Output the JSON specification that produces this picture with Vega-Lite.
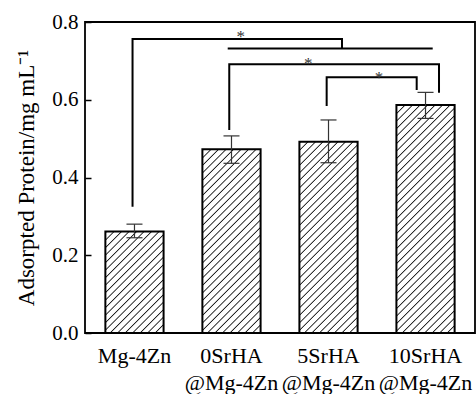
{
"$schema": "https://vega.github.io/schema/vega-lite/v6.json",
"width": 390, "height": 311,
"autosize": {"type": "none"},
"padding": {"left": 85, "top": 22, "right": 1, "bottom": 61},
"background": "white",
"config": {"view": {"stroke": "black", "strokeWidth": 1.8}, "font": "Liberation Serif",
 "axis": {"labelFont": "Liberation Serif", "titleFont": "Liberation Serif"},
 "text": {"font": "Liberation Serif"}},
"datasets": {
 "bars": [
  {"group": "Mg-4Zn", "value": 0.261, "lo": 0.245, "hi": 0.280},
  {"group": "0SrHA @Mg-4Zn", "value": 0.4725, "lo": 0.4365, "hi": 0.507},
  {"group": "5SrHA @Mg-4Zn", "value": 0.492, "lo": 0.438, "hi": 0.548},
  {"group": "10SrHA @Mg-4Zn", "value": 0.5865, "lo": 0.552, "hi": 0.619}
 ],
 "brackets": [
  {"id": "A", "i": 0, "bx": -0.02, "by": 0.325},
  {"id": "A", "i": 1, "bx": -0.02, "by": 0.756},
  {"id": "A", "i": 2, "bx": 2.139, "by": 0.756},
  {"id": "A", "i": 3, "bx": 2.139, "by": 0.732},
  {"id": "A2", "i": 0, "bx": 0.961, "by": 0.732},
  {"id": "A2", "i": 1, "bx": 3.074, "by": 0.732},
  {"id": "B", "i": 0, "bx": 0.977, "by": 0.522},
  {"id": "B", "i": 1, "bx": 0.977, "by": 0.691},
  {"id": "B", "i": 2, "bx": 3.139, "by": 0.691},
  {"id": "B", "i": 3, "bx": 3.139, "by": 0.618},
  {"id": "C", "i": 0, "bx": 1.981, "by": 0.584},
  {"id": "C", "i": 1, "bx": 1.981, "by": 0.658},
  {"id": "C", "i": 2, "bx": 2.909, "by": 0.658},
  {"id": "C", "i": 3, "bx": 2.909, "by": 0.625}
 ],
 "stars": [
  {"sx": 1.095, "sy": 0.772},
  {"sx": 1.792, "sy": 0.702},
  {"sx": 2.52, "sy": 0.666}
 ]
},
"layer": [
 {
  "data": {"name": "bars"},
  "encoding": {
   "x": {"field": "group", "type": "nominal", "sort": null, "title": null,
    "scale": {"domain": ["Mg-4Zn", "0SrHA @Mg-4Zn", "5SrHA @Mg-4Zn", "10SrHA @Mg-4Zn"], "paddingInner": 0.4, "paddingOuter": 0.21},
    "axis": {"labelExpr": "split(datum.label, ' ')", "ticks": false, "domain": false, "labelFont": "Liberation Serif", "labelFontSize": 22, "labelColor": "black", "labelPadding": 12, "labelLineHeight": 27, "labelAngle": 0, "labelBaseline": "top", "labelOverlap": false, "labelBound": false, "labelFlush": false}}
  },
  "layer": [
   {"transform": [{"filter": "datum.group === 'Mg-4Zn'"}],
    "mark": {"type": "bar", "stroke": "black", "strokeWidth": 2,
     "fill": {"gradient": "linear", "x1": 0, "y1": 0, "x2": 1.2756, "y2": 2.2243, "stops": [
{"offset":0,"color":"#fff"},{"offset":0.004,"color":"#111"},{"offset":0.008,"color":"#fff"},
{"offset":0.025,"color":"#fff"},{"offset":0.029,"color":"#111"},{"offset":0.033,"color":"#fff"},
{"offset":0.05,"color":"#fff"},{"offset":0.054,"color":"#111"},{"offset":0.058,"color":"#fff"},
{"offset":0.075,"color":"#fff"},{"offset":0.079,"color":"#111"},{"offset":0.083,"color":"#fff"},
{"offset":0.1,"color":"#fff"},{"offset":0.104,"color":"#111"},{"offset":0.108,"color":"#fff"},
{"offset":0.125,"color":"#fff"},{"offset":0.129,"color":"#111"},{"offset":0.133,"color":"#fff"},
{"offset":0.15,"color":"#fff"},{"offset":0.154,"color":"#111"},{"offset":0.158,"color":"#fff"},
{"offset":0.175,"color":"#fff"},{"offset":0.179,"color":"#111"},{"offset":0.183,"color":"#fff"},
{"offset":0.2,"color":"#fff"},{"offset":0.204,"color":"#111"},{"offset":0.208,"color":"#fff"},
{"offset":0.225,"color":"#fff"},{"offset":0.229,"color":"#111"},{"offset":0.233,"color":"#fff"},
{"offset":0.25,"color":"#fff"},{"offset":0.254,"color":"#111"},{"offset":0.258,"color":"#fff"},
{"offset":0.275,"color":"#fff"},{"offset":0.279,"color":"#111"},{"offset":0.283,"color":"#fff"},
{"offset":0.3,"color":"#fff"},{"offset":0.304,"color":"#111"},{"offset":0.308,"color":"#fff"},
{"offset":0.325,"color":"#fff"},{"offset":0.329,"color":"#111"},{"offset":0.333,"color":"#fff"},
{"offset":0.35,"color":"#fff"},{"offset":0.354,"color":"#111"},{"offset":0.358,"color":"#fff"},
{"offset":0.375,"color":"#fff"},{"offset":0.379,"color":"#111"},{"offset":0.383,"color":"#fff"},
{"offset":0.4,"color":"#fff"},{"offset":0.404,"color":"#111"},{"offset":0.408,"color":"#fff"},
{"offset":0.425,"color":"#fff"},{"offset":0.429,"color":"#111"},{"offset":0.433,"color":"#fff"},
{"offset":0.45,"color":"#fff"},{"offset":0.454,"color":"#111"},{"offset":0.458,"color":"#fff"},
{"offset":0.475,"color":"#fff"},{"offset":0.479,"color":"#111"},{"offset":0.483,"color":"#fff"},
{"offset":0.5,"color":"#fff"},{"offset":0.504,"color":"#111"},{"offset":0.508,"color":"#fff"},
{"offset":0.525,"color":"#fff"},{"offset":0.529,"color":"#111"},{"offset":0.533,"color":"#fff"}
     ]}},
    "encoding": {"y": {"field": "value", "type": "quantitative", "title": "Adsorpted Protein/mg mL⁻¹", "scale": {"domain": [0, 0.8], "nice": false},
     "axis": {"values": [0, 0.2, 0.4, 0.6, 0.8], "format": ".1f", "domain": false, "grid": false, "tickSize": -6, "tickWidth": 1.5, "tickColor": "black", "labelFont": "Liberation Serif", "labelFontSize": 21, "labelColor": "black", "labelPadding": 13, "labelFlush": false, "titleFont": "Liberation Serif", "titleFontSize": 23, "titleFontWeight": "normal", "titleColor": "black", "titlePadding": 13}}}
   },
   {"transform": [{"filter": "datum.group === '0SrHA @Mg-4Zn'"}],
    "mark": {"type": "bar", "stroke": "black", "strokeWidth": 2,
     "fill": {"gradient": "linear", "x1": 0, "y1": 0, "x2": 0.4704, "y2": 1.4842, "stops": [
{"offset":0,"color":"#fff"},{"offset":0.004,"color":"#111"},{"offset":0.008,"color":"#fff"},
{"offset":0.025,"color":"#fff"},{"offset":0.029,"color":"#111"},{"offset":0.033,"color":"#fff"},
{"offset":0.05,"color":"#fff"},{"offset":0.054,"color":"#111"},{"offset":0.058,"color":"#fff"},
{"offset":0.075,"color":"#fff"},{"offset":0.079,"color":"#111"},{"offset":0.083,"color":"#fff"},
{"offset":0.1,"color":"#fff"},{"offset":0.104,"color":"#111"},{"offset":0.108,"color":"#fff"},
{"offset":0.125,"color":"#fff"},{"offset":0.129,"color":"#111"},{"offset":0.133,"color":"#fff"},
{"offset":0.15,"color":"#fff"},{"offset":0.154,"color":"#111"},{"offset":0.158,"color":"#fff"},
{"offset":0.175,"color":"#fff"},{"offset":0.179,"color":"#111"},{"offset":0.183,"color":"#fff"},
{"offset":0.2,"color":"#fff"},{"offset":0.204,"color":"#111"},{"offset":0.208,"color":"#fff"},
{"offset":0.225,"color":"#fff"},{"offset":0.229,"color":"#111"},{"offset":0.233,"color":"#fff"},
{"offset":0.25,"color":"#fff"},{"offset":0.254,"color":"#111"},{"offset":0.258,"color":"#fff"},
{"offset":0.275,"color":"#fff"},{"offset":0.279,"color":"#111"},{"offset":0.283,"color":"#fff"},
{"offset":0.3,"color":"#fff"},{"offset":0.304,"color":"#111"},{"offset":0.308,"color":"#fff"},
{"offset":0.325,"color":"#fff"},{"offset":0.329,"color":"#111"},{"offset":0.333,"color":"#fff"},
{"offset":0.35,"color":"#fff"},{"offset":0.354,"color":"#111"},{"offset":0.358,"color":"#fff"},
{"offset":0.375,"color":"#fff"},{"offset":0.379,"color":"#111"},{"offset":0.383,"color":"#fff"},
{"offset":0.4,"color":"#fff"},{"offset":0.404,"color":"#111"},{"offset":0.408,"color":"#fff"},
{"offset":0.425,"color":"#fff"},{"offset":0.429,"color":"#111"},{"offset":0.433,"color":"#fff"},
{"offset":0.45,"color":"#fff"},{"offset":0.454,"color":"#111"},{"offset":0.458,"color":"#fff"},
{"offset":0.475,"color":"#fff"},{"offset":0.479,"color":"#111"},{"offset":0.483,"color":"#fff"},
{"offset":0.5,"color":"#fff"},{"offset":0.504,"color":"#111"},{"offset":0.508,"color":"#fff"},
{"offset":0.525,"color":"#fff"},{"offset":0.529,"color":"#111"},{"offset":0.533,"color":"#fff"},
{"offset":0.55,"color":"#fff"},{"offset":0.554,"color":"#111"},{"offset":0.558,"color":"#fff"},
{"offset":0.575,"color":"#fff"},{"offset":0.579,"color":"#111"},{"offset":0.583,"color":"#fff"},
{"offset":0.6,"color":"#fff"},{"offset":0.604,"color":"#111"},{"offset":0.608,"color":"#fff"},
{"offset":0.625,"color":"#fff"},{"offset":0.629,"color":"#111"},{"offset":0.633,"color":"#fff"},
{"offset":0.65,"color":"#fff"},{"offset":0.654,"color":"#111"},{"offset":0.658,"color":"#fff"},
{"offset":0.675,"color":"#fff"},{"offset":0.679,"color":"#111"},{"offset":0.683,"color":"#fff"},
{"offset":0.7,"color":"#fff"},{"offset":0.704,"color":"#111"},{"offset":0.708,"color":"#fff"},
{"offset":0.725,"color":"#fff"},{"offset":0.729,"color":"#111"},{"offset":0.733,"color":"#fff"},
{"offset":0.75,"color":"#fff"},{"offset":0.754,"color":"#111"},{"offset":0.758,"color":"#fff"},
{"offset":0.775,"color":"#fff"},{"offset":0.779,"color":"#111"},{"offset":0.783,"color":"#fff"},
{"offset":0.8,"color":"#fff"},{"offset":0.804,"color":"#111"},{"offset":0.808,"color":"#fff"}
     ]}},
    "encoding": {"y": {"field": "value", "type": "quantitative", "title": "Adsorpted Protein/mg mL⁻¹", "scale": {"domain": [0, 0.8], "nice": false},
     "axis": {"values": [0, 0.2, 0.4, 0.6, 0.8], "format": ".1f", "domain": false, "grid": false, "tickSize": -6, "tickWidth": 1.5, "tickColor": "black", "labelFont": "Liberation Serif", "labelFontSize": 21, "labelColor": "black", "labelPadding": 13, "labelFlush": false, "titleFont": "Liberation Serif", "titleFontSize": 23, "titleFontWeight": "normal", "titleColor": "black", "titlePadding": 13}}}
   },
   {"transform": [{"filter": "datum.group === '5SrHA @Mg-4Zn'"}],
    "mark": {"type": "bar", "stroke": "black", "strokeWidth": 2,
     "fill": {"gradient": "linear", "x1": 0, "y1": 0, "x2": 0.4369, "y2": 1.4355, "stops": [
{"offset":0,"color":"#fff"},{"offset":0.004,"color":"#111"},{"offset":0.008,"color":"#fff"},
{"offset":0.025,"color":"#fff"},{"offset":0.029,"color":"#111"},{"offset":0.033,"color":"#fff"},
{"offset":0.05,"color":"#fff"},{"offset":0.054,"color":"#111"},{"offset":0.058,"color":"#fff"},
{"offset":0.075,"color":"#fff"},{"offset":0.079,"color":"#111"},{"offset":0.083,"color":"#fff"},
{"offset":0.1,"color":"#fff"},{"offset":0.104,"color":"#111"},{"offset":0.108,"color":"#fff"},
{"offset":0.125,"color":"#fff"},{"offset":0.129,"color":"#111"},{"offset":0.133,"color":"#fff"},
{"offset":0.15,"color":"#fff"},{"offset":0.154,"color":"#111"},{"offset":0.158,"color":"#fff"},
{"offset":0.175,"color":"#fff"},{"offset":0.179,"color":"#111"},{"offset":0.183,"color":"#fff"},
{"offset":0.2,"color":"#fff"},{"offset":0.204,"color":"#111"},{"offset":0.208,"color":"#fff"},
{"offset":0.225,"color":"#fff"},{"offset":0.229,"color":"#111"},{"offset":0.233,"color":"#fff"},
{"offset":0.25,"color":"#fff"},{"offset":0.254,"color":"#111"},{"offset":0.258,"color":"#fff"},
{"offset":0.275,"color":"#fff"},{"offset":0.279,"color":"#111"},{"offset":0.283,"color":"#fff"},
{"offset":0.3,"color":"#fff"},{"offset":0.304,"color":"#111"},{"offset":0.308,"color":"#fff"},
{"offset":0.325,"color":"#fff"},{"offset":0.329,"color":"#111"},{"offset":0.333,"color":"#fff"},
{"offset":0.35,"color":"#fff"},{"offset":0.354,"color":"#111"},{"offset":0.358,"color":"#fff"},
{"offset":0.375,"color":"#fff"},{"offset":0.379,"color":"#111"},{"offset":0.383,"color":"#fff"},
{"offset":0.4,"color":"#fff"},{"offset":0.404,"color":"#111"},{"offset":0.408,"color":"#fff"},
{"offset":0.425,"color":"#fff"},{"offset":0.429,"color":"#111"},{"offset":0.433,"color":"#fff"},
{"offset":0.45,"color":"#fff"},{"offset":0.454,"color":"#111"},{"offset":0.458,"color":"#fff"},
{"offset":0.475,"color":"#fff"},{"offset":0.479,"color":"#111"},{"offset":0.483,"color":"#fff"},
{"offset":0.5,"color":"#fff"},{"offset":0.504,"color":"#111"},{"offset":0.508,"color":"#fff"},
{"offset":0.525,"color":"#fff"},{"offset":0.529,"color":"#111"},{"offset":0.533,"color":"#fff"},
{"offset":0.55,"color":"#fff"},{"offset":0.554,"color":"#111"},{"offset":0.558,"color":"#fff"},
{"offset":0.575,"color":"#fff"},{"offset":0.579,"color":"#111"},{"offset":0.583,"color":"#fff"},
{"offset":0.6,"color":"#fff"},{"offset":0.604,"color":"#111"},{"offset":0.608,"color":"#fff"},
{"offset":0.625,"color":"#fff"},{"offset":0.629,"color":"#111"},{"offset":0.633,"color":"#fff"},
{"offset":0.65,"color":"#fff"},{"offset":0.654,"color":"#111"},{"offset":0.658,"color":"#fff"},
{"offset":0.675,"color":"#fff"},{"offset":0.679,"color":"#111"},{"offset":0.683,"color":"#fff"},
{"offset":0.7,"color":"#fff"},{"offset":0.704,"color":"#111"},{"offset":0.708,"color":"#fff"},
{"offset":0.725,"color":"#fff"},{"offset":0.729,"color":"#111"},{"offset":0.733,"color":"#fff"},
{"offset":0.75,"color":"#fff"},{"offset":0.754,"color":"#111"},{"offset":0.758,"color":"#fff"},
{"offset":0.775,"color":"#fff"},{"offset":0.779,"color":"#111"},{"offset":0.783,"color":"#fff"},
{"offset":0.8,"color":"#fff"},{"offset":0.804,"color":"#111"},{"offset":0.808,"color":"#fff"},
{"offset":0.825,"color":"#fff"},{"offset":0.829,"color":"#111"},{"offset":0.833,"color":"#fff"}
     ]}},
    "encoding": {"y": {"field": "value", "type": "quantitative", "title": "Adsorpted Protein/mg mL⁻¹", "scale": {"domain": [0, 0.8], "nice": false},
     "axis": {"values": [0, 0.2, 0.4, 0.6, 0.8], "format": ".1f", "domain": false, "grid": false, "tickSize": -6, "tickWidth": 1.5, "tickColor": "black", "labelFont": "Liberation Serif", "labelFontSize": 21, "labelColor": "black", "labelPadding": 13, "labelFlush": false, "titleFont": "Liberation Serif", "titleFontSize": 23, "titleFontWeight": "normal", "titleColor": "black", "titlePadding": 13}}}
   },
   {"transform": [{"filter": "datum.group === '10SrHA @Mg-4Zn'"}],
    "mark": {"type": "bar", "stroke": "black", "strokeWidth": 2,
     "fill": {"gradient": "linear", "x1": 0, "y1": 0, "x2": 0.3154, "y2": 1.2353, "stops": [
{"offset":0,"color":"#fff"},{"offset":0.004,"color":"#111"},{"offset":0.008,"color":"#fff"},
{"offset":0.025,"color":"#fff"},{"offset":0.029,"color":"#111"},{"offset":0.033,"color":"#fff"},
{"offset":0.05,"color":"#fff"},{"offset":0.054,"color":"#111"},{"offset":0.058,"color":"#fff"},
{"offset":0.075,"color":"#fff"},{"offset":0.079,"color":"#111"},{"offset":0.083,"color":"#fff"},
{"offset":0.1,"color":"#fff"},{"offset":0.104,"color":"#111"},{"offset":0.108,"color":"#fff"},
{"offset":0.125,"color":"#fff"},{"offset":0.129,"color":"#111"},{"offset":0.133,"color":"#fff"},
{"offset":0.15,"color":"#fff"},{"offset":0.154,"color":"#111"},{"offset":0.158,"color":"#fff"},
{"offset":0.175,"color":"#fff"},{"offset":0.179,"color":"#111"},{"offset":0.183,"color":"#fff"},
{"offset":0.2,"color":"#fff"},{"offset":0.204,"color":"#111"},{"offset":0.208,"color":"#fff"},
{"offset":0.225,"color":"#fff"},{"offset":0.229,"color":"#111"},{"offset":0.233,"color":"#fff"},
{"offset":0.25,"color":"#fff"},{"offset":0.254,"color":"#111"},{"offset":0.258,"color":"#fff"},
{"offset":0.275,"color":"#fff"},{"offset":0.279,"color":"#111"},{"offset":0.283,"color":"#fff"},
{"offset":0.3,"color":"#fff"},{"offset":0.304,"color":"#111"},{"offset":0.308,"color":"#fff"},
{"offset":0.325,"color":"#fff"},{"offset":0.329,"color":"#111"},{"offset":0.333,"color":"#fff"},
{"offset":0.35,"color":"#fff"},{"offset":0.354,"color":"#111"},{"offset":0.358,"color":"#fff"},
{"offset":0.375,"color":"#fff"},{"offset":0.379,"color":"#111"},{"offset":0.383,"color":"#fff"},
{"offset":0.4,"color":"#fff"},{"offset":0.404,"color":"#111"},{"offset":0.408,"color":"#fff"},
{"offset":0.425,"color":"#fff"},{"offset":0.429,"color":"#111"},{"offset":0.433,"color":"#fff"},
{"offset":0.45,"color":"#fff"},{"offset":0.454,"color":"#111"},{"offset":0.458,"color":"#fff"},
{"offset":0.475,"color":"#fff"},{"offset":0.479,"color":"#111"},{"offset":0.483,"color":"#fff"},
{"offset":0.5,"color":"#fff"},{"offset":0.504,"color":"#111"},{"offset":0.508,"color":"#fff"},
{"offset":0.525,"color":"#fff"},{"offset":0.529,"color":"#111"},{"offset":0.533,"color":"#fff"},
{"offset":0.55,"color":"#fff"},{"offset":0.554,"color":"#111"},{"offset":0.558,"color":"#fff"},
{"offset":0.575,"color":"#fff"},{"offset":0.579,"color":"#111"},{"offset":0.583,"color":"#fff"},
{"offset":0.6,"color":"#fff"},{"offset":0.604,"color":"#111"},{"offset":0.608,"color":"#fff"},
{"offset":0.625,"color":"#fff"},{"offset":0.629,"color":"#111"},{"offset":0.633,"color":"#fff"},
{"offset":0.65,"color":"#fff"},{"offset":0.654,"color":"#111"},{"offset":0.658,"color":"#fff"},
{"offset":0.675,"color":"#fff"},{"offset":0.679,"color":"#111"},{"offset":0.683,"color":"#fff"},
{"offset":0.7,"color":"#fff"},{"offset":0.704,"color":"#111"},{"offset":0.708,"color":"#fff"},
{"offset":0.725,"color":"#fff"},{"offset":0.729,"color":"#111"},{"offset":0.733,"color":"#fff"},
{"offset":0.75,"color":"#fff"},{"offset":0.754,"color":"#111"},{"offset":0.758,"color":"#fff"},
{"offset":0.775,"color":"#fff"},{"offset":0.779,"color":"#111"},{"offset":0.783,"color":"#fff"},
{"offset":0.8,"color":"#fff"},{"offset":0.804,"color":"#111"},{"offset":0.808,"color":"#fff"},
{"offset":0.825,"color":"#fff"},{"offset":0.829,"color":"#111"},{"offset":0.833,"color":"#fff"},
{"offset":0.85,"color":"#fff"},{"offset":0.854,"color":"#111"},{"offset":0.858,"color":"#fff"},
{"offset":0.875,"color":"#fff"},{"offset":0.879,"color":"#111"},{"offset":0.883,"color":"#fff"},
{"offset":0.9,"color":"#fff"},{"offset":0.904,"color":"#111"},{"offset":0.908,"color":"#fff"},
{"offset":0.925,"color":"#fff"},{"offset":0.929,"color":"#111"},{"offset":0.933,"color":"#fff"},
{"offset":0.95,"color":"#fff"},{"offset":0.954,"color":"#111"},{"offset":0.958,"color":"#fff"}
     ]}},
    "encoding": {"y": {"field": "value", "type": "quantitative", "title": "Adsorpted Protein/mg mL⁻¹", "scale": {"domain": [0, 0.8], "nice": false},
     "axis": {"values": [0, 0.2, 0.4, 0.6, 0.8], "format": ".1f", "domain": false, "grid": false, "tickSize": -6, "tickWidth": 1.5, "tickColor": "black", "labelFont": "Liberation Serif", "labelFontSize": 21, "labelColor": "black", "labelPadding": 13, "labelFlush": false, "titleFont": "Liberation Serif", "titleFontSize": 23, "titleFontWeight": "normal", "titleColor": "black", "titlePadding": 13}}}
   },
   {"mark": {"type": "rule", "color": "#333", "strokeWidth": 1.2},
    "encoding": {"y": {"field": "lo", "type": "quantitative", "title": "Adsorpted Protein/mg mL⁻¹", "scale": {"domain": [0, 0.8], "nice": false},
     "axis": {"values": [0, 0.2, 0.4, 0.6, 0.8], "format": ".1f", "domain": false, "grid": false, "tickSize": -6, "tickWidth": 1.5, "tickColor": "black", "labelFont": "Liberation Serif", "labelFontSize": 21, "labelColor": "black", "labelPadding": 13, "labelFlush": false, "titleFont": "Liberation Serif", "titleFontSize": 23, "titleFontWeight": "normal", "titleColor": "black", "titlePadding": 13}},
     "y2": {"field": "hi"}}},
   {"mark": {"type": "tick", "color": "#333", "size": 16, "thickness": 1.2, "opacity": 1},
    "encoding": {"y": {"field": "lo", "type": "quantitative", "title": "Adsorpted Protein/mg mL⁻¹", "scale": {"domain": [0, 0.8], "nice": false},
     "axis": {"values": [0, 0.2, 0.4, 0.6, 0.8], "format": ".1f", "domain": false, "grid": false, "tickSize": -6, "tickWidth": 1.5, "tickColor": "black", "labelFont": "Liberation Serif", "labelFontSize": 21, "labelColor": "black", "labelPadding": 13, "labelFlush": false, "titleFont": "Liberation Serif", "titleFontSize": 23, "titleFontWeight": "normal", "titleColor": "black", "titlePadding": 13}}}},
   {"mark": {"type": "tick", "color": "#333", "size": 16, "thickness": 1.2, "opacity": 1},
    "encoding": {"y": {"field": "hi", "type": "quantitative", "title": "Adsorpted Protein/mg mL⁻¹", "scale": {"domain": [0, 0.8], "nice": false},
     "axis": {"values": [0, 0.2, 0.4, 0.6, 0.8], "format": ".1f", "domain": false, "grid": false, "tickSize": -6, "tickWidth": 1.5, "tickColor": "black", "labelFont": "Liberation Serif", "labelFontSize": 21, "labelColor": "black", "labelPadding": 13, "labelFlush": false, "titleFont": "Liberation Serif", "titleFontSize": 23, "titleFontWeight": "normal", "titleColor": "black", "titlePadding": 13}}}}
  ]
 },
 {
  "data": {"name": "brackets"},
  "mark": {"type": "line", "color": "black", "strokeWidth": 2, "strokeJoin": "miter"},
  "encoding": {
   "x": {"field": "bx", "type": "quantitative", "scale": {"domain": [-0.51, 3.51], "nice": false, "zero": false}, "axis": null},
   "y": {"field": "by", "type": "quantitative", "title": "Adsorpted Protein/mg mL⁻¹", "scale": {"domain": [0, 0.8], "nice": false},
    "axis": {"values": [0, 0.2, 0.4, 0.6, 0.8], "format": ".1f", "domain": false, "grid": false, "tickSize": -6, "tickWidth": 1.5, "tickColor": "black", "labelFont": "Liberation Serif", "labelFontSize": 21, "labelColor": "black", "labelPadding": 13, "labelFlush": false, "titleFont": "Liberation Serif", "titleFontSize": 23, "titleFontWeight": "normal", "titleColor": "black", "titlePadding": 13}},
   "detail": {"field": "id"},
   "order": {"field": "i"}
  }
 },
 {
  "data": {"name": "stars"},
  "mark": {"type": "text", "text": "*", "font": "Liberation Serif", "fontSize": 17, "color": "#333", "baseline": "middle", "dy": 4},
  "encoding": {
   "x": {"field": "sx", "type": "quantitative", "scale": {"domain": [-0.51, 3.51], "nice": false, "zero": false}, "axis": null},
   "y": {"field": "sy", "type": "quantitative", "title": "Adsorpted Protein/mg mL⁻¹", "scale": {"domain": [0, 0.8], "nice": false},
    "axis": {"values": [0, 0.2, 0.4, 0.6, 0.8], "format": ".1f", "domain": false, "grid": false, "tickSize": -6, "tickWidth": 1.5, "tickColor": "black", "labelFont": "Liberation Serif", "labelFontSize": 21, "labelColor": "black", "labelPadding": 13, "labelFlush": false, "titleFont": "Liberation Serif", "titleFontSize": 23, "titleFontWeight": "normal", "titleColor": "black", "titlePadding": 13}}
  }
 }
],
"resolve": {"scale": {"x": "independent"}, "axis": {"x": "independent"}}
}
